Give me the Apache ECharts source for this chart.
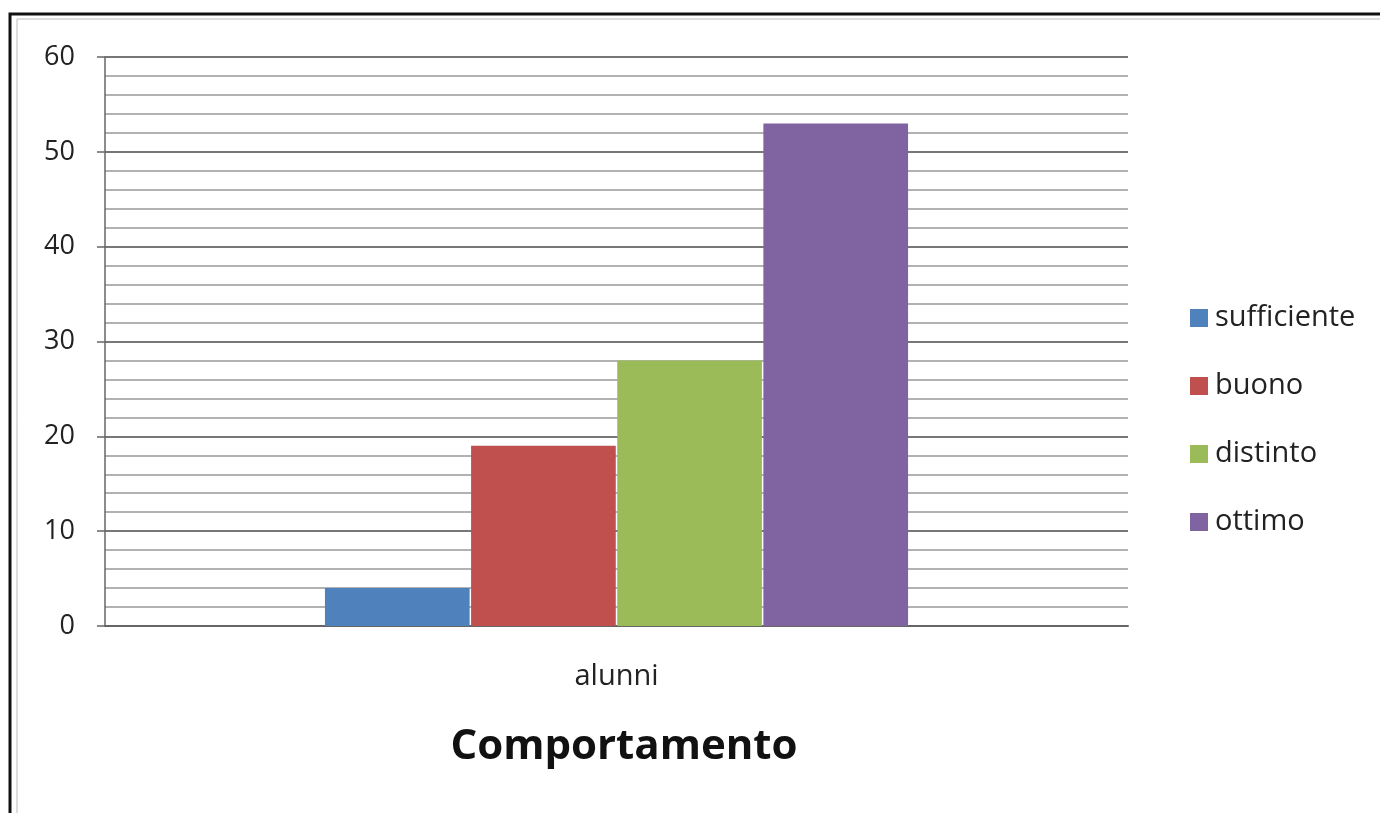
<!DOCTYPE html>
<html><head><meta charset="utf-8">
<script src="https://cdn.jsdelivr.net/npm/echarts@6/dist/echarts.min.js"></script>
<style>html,body{margin:0;padding:0;background:#fff}#c{width:1380px;height:813px}</style>
</head><body><div id="c"></div>
<script>
var categories = ['alunni'];
var seriesNames = ['sufficiente', 'buono', 'distinto', 'ottimo'];
var seriesValues = [[4], [19], [28], [53]];
var seriesColors = ['#4F81BD', '#C0504D', '#9BBB59', '#8064A2'];
var titleText = 'Comportamento';

var chart = echarts.init(document.getElementById('c'));
var FONT = "'Open Sans', 'Noto Sans', sans-serif";
chart.setOption({
  animation: false,
  backgroundColor: '#fff',
  textStyle: {fontFamily: FONT},
  title: {
    text: titleText, left: 619, top: 721, textAlign: 'center',
    textStyle: {fontSize: 42, fontWeight: 'bold', color: '#111', fontFamily: FONT}
  },
  grid: {left: 105, right: 252, top: 57, bottom: 187},
  legend: {
    orient: 'vertical', left: 1185, top: 298,
    icon: 'rect', itemWidth: 18, itemHeight: 18, itemGap: 38,
    textStyle: {fontSize: 29, lineHeight: 30, color: '#222', fontFamily: FONT, padding: [0, 0, 0, 2]},
    data: seriesNames
  },
  graphic: [
    {type: 'rect', shape: {x: 10, y: 14, width: 1400, height: 900}, style: {fill: 'none', stroke: '#111', lineWidth: 3}, silent: true},
    {type: 'rect', shape: {x: 17, y: 19, width: 1400, height: 900}, style: {fill: 'none', stroke: '#bbb', lineWidth: 1}, silent: true}
  ],
  xAxis: {
    type: 'category', data: categories,
    axisLine: {show: true, lineStyle: {color: '#666', width: 2}},
    axisTick: {show: false},
    axisLabel: {fontSize: 29, color: '#222', margin: 36, fontFamily: FONT}
  },
  yAxis: {
    type: 'value', min: 0, max: 60, interval: 10,
    axisLine: {show: true, lineStyle: {color: '#666', width: 1.5}},
    axisTick: {show: true, length: 8, lineStyle: {color: '#666', width: 1.5}},
    axisLabel: {fontSize: 27, color: '#222', margin: 30, fontFamily: FONT},
    splitLine: {show: true, lineStyle: {color: '#777', width: 2}},
    minorTick: {show: false, splitNumber: 5},
    minorSplitLine: {show: true, lineStyle: {color: '#999', width: 1.5}}
  },
  series: seriesNames.map(function (n, i) {
    return {
      name: n, type: 'bar', data: seriesValues[i],
      barGap: '1%', barCategoryGap: '43%',
      itemStyle: {color: seriesColors[i]}
    };
  })
});
</script></body></html>
